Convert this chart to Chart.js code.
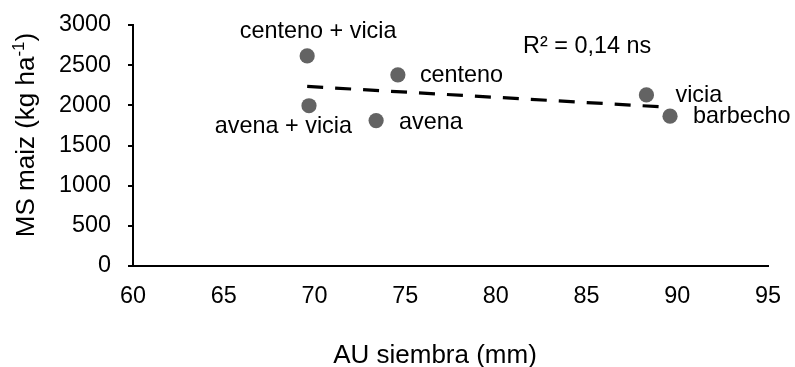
<!DOCTYPE html>
<html>
<head>
<meta charset="utf-8">
<script src="https://cdn.jsdelivr.net/npm/chart.js@4/dist/chart.umd.min.js"></script>
<style>
  html, body { margin: 0; padding: 0; background: #fff; }
  #wrap { width: 795px; height: 367px; position: relative; }
</style>
</head>
<body>
<div id="wrap"><canvas id="c" width="795" height="367"></canvas></div>
<script>
// Treatments (cover crops) and their values
const treatments = ['centeno + vicia', 'avena + vicia', 'avena', 'centeno', 'vicia', 'barbecho'];
const auSiembra = [69.6, 69.7, 73.4, 74.6, 88.3, 89.6];   // AU siembra (mm)
const msMaiz = [2615, 1995, 1810, 2380, 2130, 1865];      // MS maiz (kg ha-1)

// Linear trend line end points
const trendX = [69.6, 89.6];
const trendY = [2235, 1975];
const trendLabel = 'R² = 0,14 ns';

// Axis ranges and tick steps
const xRange = [60, 95];
const xStep = 5;
const yRange = [0, 3000];
const yStep = 500;

const FONT = "'Liberation Sans', Arial, Helvetica, sans-serif";
const TEXT = '#000000';

// Where each point label sits relative to its marker (pixels)
const labelPlacement = {
  'centeno + vicia': { dx: 11, dy: -18, align: 'center' },
  'avena + vicia':   { dx: 43, dy: 27,  align: 'right' },
  'avena':           { dx: 23, dy: 8,   align: 'left' },
  'centeno':         { dx: 22, dy: 7,   align: 'left' },
  'vicia':           { dx: 29, dy: 7,   align: 'left' },
  'barbecho':        { dx: 23, dy: 7,   align: 'left' }
};
const trendLabelPos = { x: 81.5, y: 2650 };

const pointsData = auSiembra.map((x, i) => ({ x: x, y: msMaiz[i] }));
const trendData = trendX.map((x, i) => ({ x: x, y: trendY[i] }));

const annotations = {
  id: 'annotations',
  afterDatasetsDraw(chart) {
    const ctx = chart.ctx;
    const xs = chart.scales.x, ys = chart.scales.y;
    ctx.save();
    ctx.fillStyle = TEXT;
    ctx.textBaseline = 'alphabetic';
    ctx.font = '23.4px ' + FONT;
    // point labels
    treatments.forEach((name, i) => {
      const p = labelPlacement[name];
      const px = xs.getPixelForValue(auSiembra[i]);
      const py = ys.getPixelForValue(msMaiz[i]);
      ctx.textAlign = p.align;
      ctx.fillText(name, px + p.dx, py + p.dy);
    });
    // trend label
    ctx.textAlign = 'left';
    ctx.fillText(trendLabel, xs.getPixelForValue(trendLabelPos.x), ys.getPixelForValue(trendLabelPos.y));

    // x axis title
    ctx.font = '26px ' + FONT;
    ctx.textAlign = 'center';
    ctx.fillText('AU siembra (mm)', 435, 362.5);

    // y axis title with superscript
    const base = 'MS maiz (kg ha';
    const sup = '-1';
    const tail = ')';
    ctx.font = '26px ' + FONT;
    const wBase = ctx.measureText(base).width;
    const wTail = ctx.measureText(tail).width;
    ctx.font = '17px ' + FONT;
    const wSup = ctx.measureText(sup).width;
    const total = wBase + wSup + wTail;
    ctx.translate(33.5, 135);
    ctx.rotate(-Math.PI / 2);
    ctx.textAlign = 'left';
    let x0 = -total / 2;
    ctx.font = '26px ' + FONT;
    ctx.fillText(base, x0, 0);
    ctx.font = '17px ' + FONT;
    ctx.fillText(sup, x0 + wBase, -10);
    ctx.font = '26px ' + FONT;
    ctx.fillText(tail, x0 + wBase + wSup, 0);
    ctx.restore();
  }
};

new Chart(document.getElementById('c'), {
  type: 'scatter',
  data: {
    datasets: [
      {
        label: 'tendencia',
        type: 'line',
        data: trendData,
        borderColor: '#000000',
        borderWidth: 3.2,
        borderDash: [16, 12],
        pointRadius: 0,
        fill: false,
        tension: 0,
        order: 2
      },
      {
        label: 'MS maiz',
        data: pointsData,
        backgroundColor: '#636363',
        borderColor: '#636363',
        borderWidth: 0,
        pointRadius: 7.6,
        pointHoverRadius: 7.6,
        order: 1
      }
    ]
  },
  plugins: [annotations],
  options: {
    responsive: false,
    animation: false,
    events: [],
    layout: { padding: { left: 0, right: 27, top: 25, bottom: 0 } },
    plugins: {
      legend: { display: false },
      tooltip: { enabled: false },
      title: { display: false }
    },
    scales: {
      x: {
        type: 'linear',
        min: xRange[0],
        max: xRange[1],
        ticks: {
          stepSize: xStep,
          color: TEXT,
          font: { family: FONT, size: 23.4 },
          padding: 17,
          maxRotation: 0,
          callback: (v) => String(v)
        },
        grid: { display: true, drawOnChartArea: false, drawTicks: false },
        border: { display: true, color: '#000000', width: 2 },
        afterFit(scale) {
          scale.height = 367 - 266;
          scale.paddingLeft = 0;
          scale.paddingRight = 0;
        }
      },
      y: {
        type: 'linear',
        min: yRange[0],
        max: yRange[1],
        ticks: {
          stepSize: yStep,
          color: TEXT,
          font: { family: FONT, size: 23.4 },
          padding: 17,
          callback: (v) => String(v)
        },
        grid: { display: true, drawOnChartArea: false, drawTicks: true, tickLength: 5, color: '#000000', lineWidth: 2 },
        border: { display: true, color: '#000000', width: 2 },
        afterFit(scale) {
          scale.width = 133;
          scale.paddingTop = 0;
          scale.paddingBottom = 0;
        }
      }
    }
  }
});
</script>
</body>
</html>
